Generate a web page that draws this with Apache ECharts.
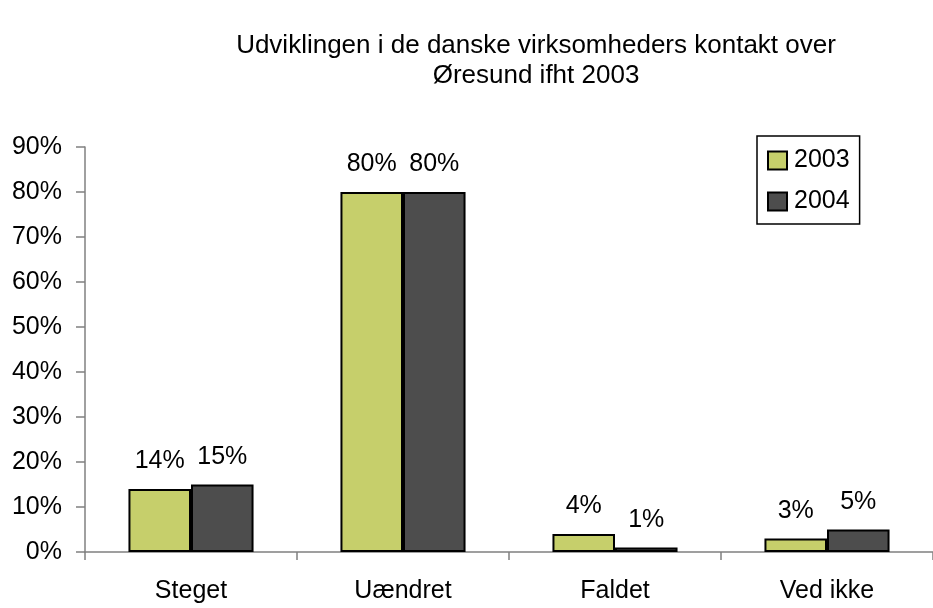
<!DOCTYPE html>
<html>
<head>
<meta charset="utf-8">
<script src="https://cdn.jsdelivr.net/npm/echarts@6/dist/echarts.min.js"></script>
<style>
  html, body { margin: 0; padding: 0; background: #fff; }
  #chart { width: 933px; height: 608px; }
</style>
</head>
<body>
<div id="chart"></div>
<script>
// data
const categories = ['Steget', 'Uændret', 'Faldet', 'Ved ikke'];
const values2003 = [14, 80, 4, 3];
const values2004 = [15, 80, 1, 5];
const yTicks = [0, 10, 20, 30, 40, 50, 60, 70, 80, 90];

const FONT = '"Liberation Sans Narrow", "Arial Narrow", "Liberation Sans", sans-serif';

const chart = echarts.init(document.getElementById('chart'));

const barLabel = {
  show: true,
  position: 'top',
  distance: 15,
  formatter: p => p.value + '%',
  color: '#000',
  fontFamily: FONT,
  fontSize: 25
};

chart.setOption({
  animation: false,
  title: {
    text: 'Udviklingen i de danske virksomheders kontakt over\nØresund ifht 2003',
    left: 531,
    top: 26,
    textAlign: 'center',
    textStyle: {
      fontFamily: FONT,
      fontWeight: 'normal',
      fontSize: 26,
      lineHeight: 30,
      color: '#000'
    }
  },
  legend: {
    orient: 'vertical',
    left: 757,
    top: 136,
    width: 100,
    padding: [12, 10, 10, 10],
    itemGap: 16,
    itemWidth: 19,
    itemHeight: 18,
    borderColor: '#000',
    borderWidth: 1.5,
    icon: 'rect',
    textStyle: { fontFamily: FONT, fontSize: 25, color: '#000', padding: [0, 0, 0, 2] },
    data: ['2003', '2004']
  },
  grid: {
    left: 85,
    top: 147,
    width: 856,
    height: 405
  },
  xAxis: {
    type: 'category',
    data: categories,
    axisLine: { lineStyle: { color: '#808080', width: 1.5 } },
    axisTick: { show: true, length: 8, inside: false, lineStyle: { color: '#808080', width: 1.5 } },
    axisLabel: { color: '#000', fontFamily: FONT, fontSize: 25, margin: 27 }
  },
  yAxis: {
    type: 'value',
    min: 0,
    max: 90,
    interval: 10,
    splitLine: { show: false },
    axisLine: { show: true, lineStyle: { color: '#808080', width: 1.5 } },
    axisTick: { show: true, length: 9, lineStyle: { color: '#808080', width: 1.5 } },
    axisLabel: {
      color: '#000',
      fontFamily: FONT,
      fontSize: 25,
      margin: 23,
      formatter: v => (yTicks.includes(v) ? v + '%' : '')
    }
  },
  series: [
    {
      name: '2003',
      type: 'bar',
      data: values2003,
      barGap: '0%',
      barCategoryGap: '41%',
      itemStyle: { color: '#C6CF6B', borderColor: '#000', borderWidth: 2 },
      label: barLabel
    },
    {
      name: '2004',
      type: 'bar',
      data: values2004,
      itemStyle: { color: '#4D4D4D', borderColor: '#000', borderWidth: 2 },
      label: barLabel
    }
  ]
});
</script>
</body>
</html>
